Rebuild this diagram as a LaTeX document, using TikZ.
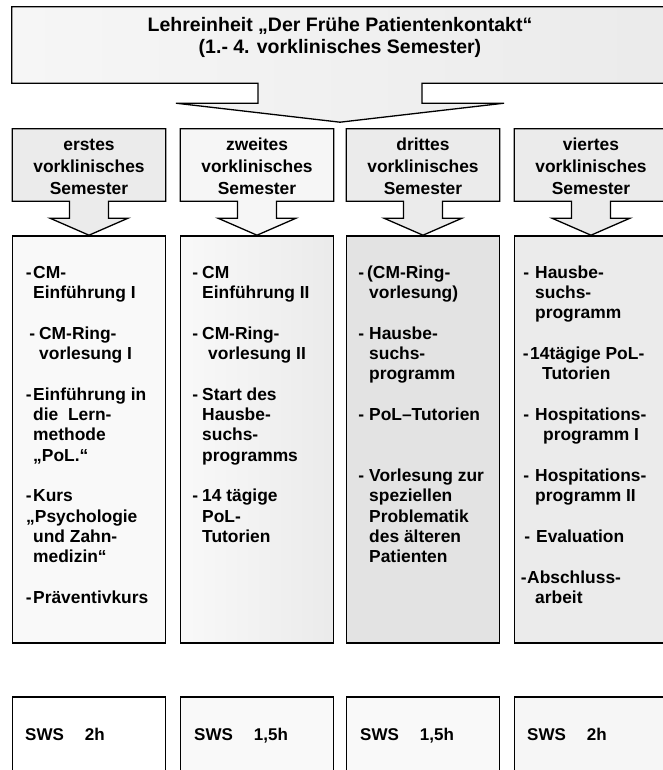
\documentclass[tikz,border=0pt]{standalone}
\usepackage{fontspec}
\setmainfont{Liberation Sans}
\usetikzlibrary{calc}
\definecolor{gA}{gray}{0.965}
\definecolor{gB}{gray}{0.92}
\definecolor{gC}{gray}{0.89}
\definecolor{gD}{gray}{0.975}
\tikzset{
  ln/.style={line width=1.3pt, draw=black, line join=miter},
  txt/.style={inner sep=0pt, anchor=base west, font=\bfseries\fontsize{17.4}{20.35}\selectfont},
  semtxt/.style={inner sep=0pt, anchor=base, font=\bfseries\fontsize{17.4}{21}\selectfont},
  titletxt/.style={inner sep=0pt, anchor=base, font=\bfseries\fontsize{19.5}{22}\selectfont},
  slot/.style={inner sep=0pt, minimum width=153pt, minimum height=72pt},
  contentbox/.style={ln, inner sep=0pt, minimum width=153pt, minimum height=407pt},
  swsbox/.style={ln, inner sep=0pt, minimum width=153pt, minimum height=110pt},
}
\newcommand{\dsh}[1]{\makebox[0pt][r]{-\hspace{#1pt}}}
\newcommand{\ry}[1]{{278+20.35*(#1-1)}}
\newcommand{\semshape}[2]{%
  \draw[ln, #2] (#1.north west) -- (#1.north east) -- (#1.south east)
    -- ($(#1.south)+(19.5,0)$) -- ($(#1.south)+(19.5,17)$) -- ($(#1.south)+(39,17)$)
    -- ($(#1.south)+(0,34)$) -- ($(#1.south)+(-39,17)$) -- ($(#1.south)+(-19.5,17)$)
    -- ($(#1.south)+(-19.5,0)$) -- (#1.south west) -- cycle;}
\begin{document}
\begin{tikzpicture}[x=1pt,y=-1pt]
\useasboundingbox (0,0) rectangle (663,770);
\clip (0,0) rectangle (663,770);
\fill[white] (0,0) rectangle (663,770);

% top box with big arrow
\node[inner sep=0pt, minimum width=656pt, minimum height=76pt] (top) at (340,45) {};
\draw[ln, left color=gA, right color=gB]
  (top.north west) -- (top.north east) -- (top.south east)
  -- ($(top.south)+(82,0)$) -- ($(top.south)+(82,20)$) -- ($(top.south)+(164,20)$)
  -- ($(top.south)+(0,39)$) -- ($(top.south)+(-164,20)$) -- ($(top.south)+(-82,20)$)
  -- ($(top.south)+(-82,0)$) -- (top.south west) -- cycle;
\node[titletxt] (t1) at (340,32) {Lehreinheit „Der Frühe Patientenkontakt“};
\node[titletxt] (t2) at (340,54) {(1.- 4. vorklinisches Semester)};

% semester boxes
\node[slot] (s1) at (89,165) {};
\node[slot] (s2) at (257,165) {};
\node[slot] (s3) at (423,165) {};
\node[slot] (s4) at (591,165) {};
\semshape{s1}{fill=gB}
\semshape{s2}{fill=gA}
\semshape{s3}{fill=gB}
\semshape{s4}{fill=gB}
\node[semtxt] (s1a) at (89,151) {erstes};
\node[semtxt] (s1b) at (89,172.5) {vorklinisches};
\node[semtxt] (s1c) at (89,194) {Semester};
\node[semtxt] (s2a) at (257,151) {zweites};
\node[semtxt] (s2b) at (257,172.5) {vorklinisches};
\node[semtxt] (s2c) at (257,194) {Semester};
\node[semtxt] (s3a) at (423,151) {drittes};
\node[semtxt] (s3b) at (423,172.5) {vorklinisches};
\node[semtxt] (s3c) at (423,194) {Semester};
\node[semtxt] (s4a) at (591,151) {viertes};
\node[semtxt] (s4b) at (591,172.5) {vorklinisches};
\node[semtxt] (s4c) at (591,194) {Semester};

% content boxes
\node[contentbox, fill=gD] (b1) at (89,439.5) {};
\node[contentbox, left color=gD, right color=gB] (b2) at (257,439.5) {};
\node[contentbox, fill=gC] (b3) at (423,439.5) {};
\node[contentbox, fill=gB] (b4) at (591,439.5) {};

% box 1
\node[txt] (c1a) at (33,\ry{1}) {\dsh{1.5}CM-};
\node[txt] (c1b) at (33,\ry{2}) {Einführung I};
\node[txt] (c1c) at (39,\ry{4}) {\dsh{4}CM-Ring-};
\node[txt] (c1d) at (39,\ry{5}) {vorlesung I};
\node[txt] (c1e) at (33,\ry{7}) {\dsh{1.5}Einführung in};
\node[txt] (c1f) at (33,\ry{8}) {die\ \ Lern-};
\node[txt] (c1g) at (33,\ry{9}) {methode};
\node[txt] (c1h) at (33,\ry{10}) {„PoL.“};
\node[txt] (c1i) at (33,\ry{12}) {\dsh{1.5}Kurs};
\node[txt] (c1j) at (26,\ry{13}) {„Psychologie};
\node[txt] (c1k) at (33,\ry{14}) {und Zahn-};
\node[txt] (c1l) at (33,\ry{15}) {medizin“};
\node[txt] (c1m) at (33,\ry{17}) {\dsh{1.5}Präventivkurs};

% box 2
\node[txt] (c2a) at (202,\ry{1}) {\dsh{4}CM};
\node[txt] (c2b) at (202,\ry{2}) {Einführung II};
\node[txt] (c2c) at (202,\ry{4}) {\dsh{4}CM-Ring-};
\node[txt] (c2d) at (208,\ry{5}) {vorlesung II};
\node[txt] (c2e) at (202,\ry{7}) {\dsh{4}Start des};
\node[txt] (c2f) at (202,\ry{8}) {Hausbe-};
\node[txt] (c2g) at (202,\ry{9}) {suchs-};
\node[txt] (c2h) at (202,\ry{10}) {programms};
\node[txt] (c2i) at (202,\ry{12}) {\dsh{4}14 tägige};
\node[txt] (c2j) at (202,\ry{13}) {PoL-};
\node[txt] (c2k) at (202,\ry{14}) {Tutorien};

% box 3
\node[txt] (c3a) at (367,\ry{1}) {\dsh{3}(CM-Ring-};
\node[txt] (c3b) at (369,\ry{2}) {vorlesung)};
\node[txt] (c3c) at (369,\ry{4}) {\dsh{5}Hausbe-};
\node[txt] (c3d) at (369,\ry{5}) {suchs-};
\node[txt] (c3e) at (369,\ry{6}) {programm};
\node[txt] (c3f) at (369,\ry{8}) {\dsh{5}PoL–Tutorien};
\node[txt] (c3g) at (369,\ry{11}) {\dsh{5}Vorlesung zur};
\node[txt] (c3h) at (369,\ry{12}) {speziellen};
\node[txt] (c3i) at (369,\ry{13}) {Problematik};
\node[txt] (c3j) at (369,\ry{14}) {des älteren};
\node[txt] (c3k) at (369,\ry{15}) {Patienten};

% box 4
\node[txt] (c4a) at (535,\ry{1}) {\dsh{6}Hausbe-};
\node[txt] (c4b) at (535,\ry{2}) {suchs-};
\node[txt] (c4c) at (535,\ry{3}) {programm};
\node[txt] (c4d) at (530,\ry{5}) {\dsh{1.5}14tägige PoL-};
\node[txt] (c4e) at (542,\ry{6}) {Tutorien};
\node[txt] (c4f) at (535,\ry{8}) {\dsh{6}Hospitations-};
\node[txt] (c4g) at (543,\ry{9}) {programm I};
\node[txt] (c4h) at (535,\ry{11}) {\dsh{6}Hospitations-};
\node[txt] (c4i) at (535,\ry{12}) {programm II};
\node[txt] (c4j) at (536,\ry{14}) {\dsh{6}Evaluation};
\node[txt] (c4k) at (527,\ry{16}) {\dsh{0.5}Abschluss-};
\node[txt] (c4l) at (535,\ry{17}) {arbeit};

% SWS boxes
\node[swsbox, fill=white] (w1) at (89,752) {};
\node[swsbox, fill=gD] (w2) at (257,752) {};
\node[swsbox, fill=gD] (w3) at (423,752) {};
\node[swsbox, fill=gA] (w4) at (591,752) {};
\node[txt, font=\bfseries\fontsize{17}{20}\selectfont] (w1t) at (25,740) {SWS\hspace{21pt}2h};
\node[txt, font=\bfseries\fontsize{17}{20}\selectfont] (w2t) at (194,740) {SWS\hspace{21pt}1,5h};
\node[txt, font=\bfseries\fontsize{17}{20}\selectfont] (w3t) at (360,740) {SWS\hspace{21pt}1,5h};
\node[txt, font=\bfseries\fontsize{17}{20}\selectfont] (w4t) at (527,740) {SWS\hspace{21pt}2h};
\end{tikzpicture}
\end{document}
